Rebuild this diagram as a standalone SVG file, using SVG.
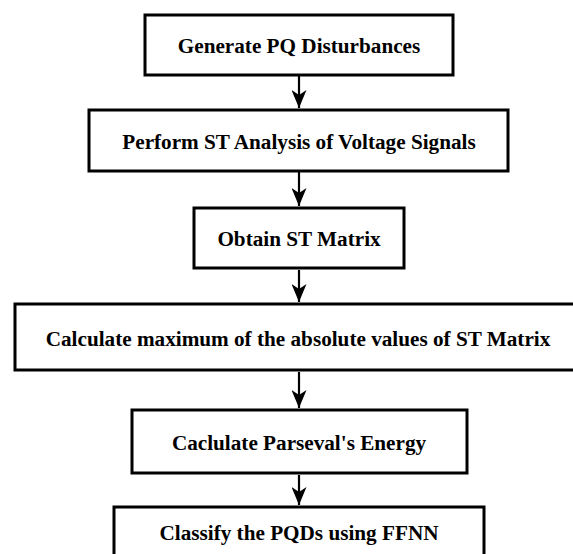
<svg xmlns="http://www.w3.org/2000/svg" width="573" height="554" viewBox="0 0 573 554">
  <style>
    .box { fill: #ffffff; stroke: #000000; stroke-width: 3; }
    .label { font-family: "Liberation Serif", "Times New Roman", serif; font-weight: bold; font-size: 21.2px; fill: #000000; text-anchor: middle; }
    .link { stroke: #000000; stroke-width: 2.2; fill: none; marker-end: url(#head); }
  </style>
  <defs>
    <!-- notched arrowhead pointing along the line direction -->
    <marker id="head" markerWidth="18" markerHeight="15" refX="18" refY="7.5" orient="auto" markerUnits="userSpaceOnUse" viewBox="0 0 18 15">
      <path d="M0,0 L18,7.5 L0,15 L5,7.5 Z" fill="#000000"/>
    </marker>
  </defs>
  <rect width="573" height="554" fill="#ffffff"/>

  <g id="connectors">
    <line class="link" x1="299" y1="76" x2="299" y2="108"/>
    <line class="link" x1="299" y1="172" x2="299" y2="206"/>
    <line class="link" x1="299" y1="270" x2="299" y2="302"/>
    <line class="link" x1="299" y1="372" x2="299" y2="408"/>
    <line class="link" x1="299" y1="475" x2="299" y2="505"/>
  </g>

  <g id="node-generate">
    <rect class="box" x="145" y="15" width="308" height="60"/>
    <text class="label" x="299" y="53">Generate PQ Disturbances</text>
  </g>
  <g id="node-st-analysis">
    <rect class="box" x="89" y="110" width="419" height="61"/>
    <text class="label" x="299" y="149">Perform ST Analysis of Voltage Signals</text>
  </g>
  <g id="node-st-matrix">
    <rect class="box" x="194" y="208" width="210" height="60"/>
    <text class="label" x="299" y="246">Obtain ST Matrix</text>
  </g>
  <g id="node-maximum">
    <rect class="box" x="15" y="304" width="570" height="66"/>
    <text class="label" x="298" y="346">Calculate maximum of the absolute values of ST Matrix</text>
  </g>
  <g id="node-parseval">
    <rect class="box" x="132" y="410" width="335" height="63"/>
    <text class="label" x="299" y="450">Caclulate Parseval's Energy</text>
  </g>
  <g id="node-classify">
    <rect class="box" x="114" y="507" width="370" height="60"/>
    <text class="label" x="299" y="540">Classify the PQDs using FFNN</text>
  </g>
</svg>
